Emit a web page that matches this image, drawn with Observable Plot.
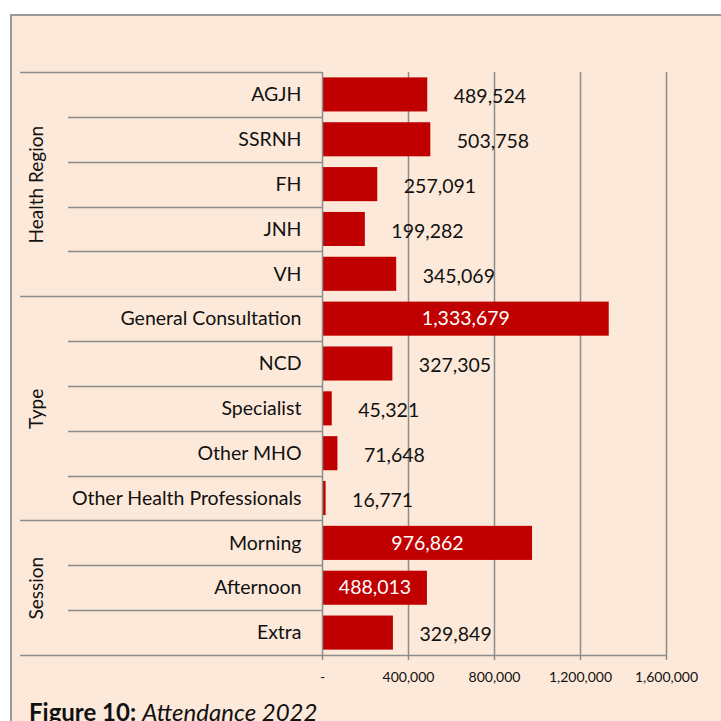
<!DOCTYPE html>
<html><head><meta charset="utf-8">
<script src="https://cdn.jsdelivr.net/npm/d3@7"></script>
<script src="https://cdn.jsdelivr.net/npm/@observablehq/plot@0.6"></script>
<style>
html,body{margin:0;padding:0;background:#fff;overflow:hidden;width:721px;height:721px;}
#panel{position:absolute;left:10px;top:14px;width:760px;height:760px;background:#fde9d9;border-left:2px solid #9a9a9a;border-top:2px solid #9a9a9a;}
#chart{position:absolute;left:0;top:0;}
#caption{position:absolute;left:29px;top:697px;font-family:Lato,sans-serif;font-size:24px;color:#111;white-space:nowrap;}
</style></head><body>
<div id="panel"></div>
<div id="chart"></div>
<div id="caption"><b>Figure 10:</b> <i>Attendance 2022</i></div>
<script>
// ---- data ----
const groups = ["Health Region", "Type", "Session"];
const categories = ["AGJH", "SSRNH", "FH", "JNH", "VH",
  "General Consultation", "NCD", "Specialist", "Other MHO", "Other Health Professionals",
  "Morning", "Afternoon", "Extra"];
const categoryGroup = ["Health Region", "Health Region", "Health Region", "Health Region", "Health Region",
  "Type", "Type", "Type", "Type", "Type",
  "Session", "Session", "Session"];
const values = [489524, 503758, 257091, 199282, 345069,
  1333679, 327305, 45321, 71648, 16771,
  976862, 488013, 329849];
const xTicks = [0, 400000, 800000, 1200000, 1600000];

// ---- chart ----
const data = categories.map((c, i) => ({category: c, group: categoryGroup[i], value: values[i]}));
const insideCats = new Set(["General Consultation", "Morning", "Afternoon"]);
const fmt = d3.format(",");
const groupLabels = groups.map(g => {
  const rows = data.filter(d => d.group === g);
  return {group: g, mid: rows[Math.floor((rows.length - 1) / 2)].category};
});
const grey = "#8c8c8c";
const ink = "#111";

const plot = Plot.plot({
  width: 721, height: 721,
  marginLeft: 322, marginRight: 55, marginTop: 72, marginBottom: 66,
  style: {background: "transparent", fontFamily: "Lato, sans-serif", overflow: "visible"},
  x: {domain: [0, 1600000]},
  y: {domain: categories, paddingInner: 0.24, paddingOuter: 0.12, round: false, axis: null},
  marks: [
    Plot.ruleX(xTicks.slice(1), {stroke: grey, strokeWidth: 1.5, insetBottom: -5}),
    Plot.barX(data, {x: "value", y: "category", fill: "#c00000"}),
    Plot.ruleX([0], {stroke: grey, strokeWidth: 1.5, insetBottom: -5}),
    Plot.axisX({ticks: xTicks, tickSize: 0, tickPadding: 17, label: null, tickFormat: d => d === 0 ? "-" : fmt(d), fontSize: 14, fill: ink}),
    Plot.axisY({tickSize: 0, tickPadding: 21, label: null, fontSize: 19.5, fill: ink}),
    Plot.text(data.filter(d => !insideCats.has(d.category)), {x: "value", y: "category", text: d => fmt(d.value), textAnchor: "start", dx: 26, dy: 2, fontSize: 19.5, fill: ink}),
    Plot.text(data.filter(d => insideCats.has(d.category)), {x: d => d.value / 2, y: "category", text: d => fmt(d.value), fontSize: 19.5, fill: "white"}),
    Plot.text(groupLabels, {y: "mid", text: "group", frameAnchor: "left", textAnchor: "middle", dx: -286, rotate: -90, fontSize: 19, fill: ink})
  ]
});
document.getElementById("chart").append(plot);

// structural row / group separator lines, positioned from the plot's scales
const ys = plot.scale("y"), xs = plot.scale("x");
const step = ys.step ?? ys.bandwidth / (1 - 0.24);
const top0 = ys.apply(categories[0]) - (step - ys.bandwidth) / 2;
const x0 = xs.apply(0), xMax = xs.apply(1600000);
const svg = d3.select(plot.tagName === "svg" ? plot : plot.querySelector("svg"));
const g = svg.append("g").attr("stroke", grey).attr("stroke-width", 1.5);
for (let i = 0; i <= categories.length; i++) {
  const yb = Math.round(top0 + i * step) + 0.5;
  const isGroup = i === 0 || i === categories.length || categoryGroup[i] !== categoryGroup[i - 1];
  const xStart = isGroup ? 20 : 68;
  const xEnd = i === categories.length ? xMax : x0;
  g.append("line").attr("x1", xStart).attr("x2", xEnd).attr("y1", yb).attr("y2", yb);
}
</script>
</body></html>
